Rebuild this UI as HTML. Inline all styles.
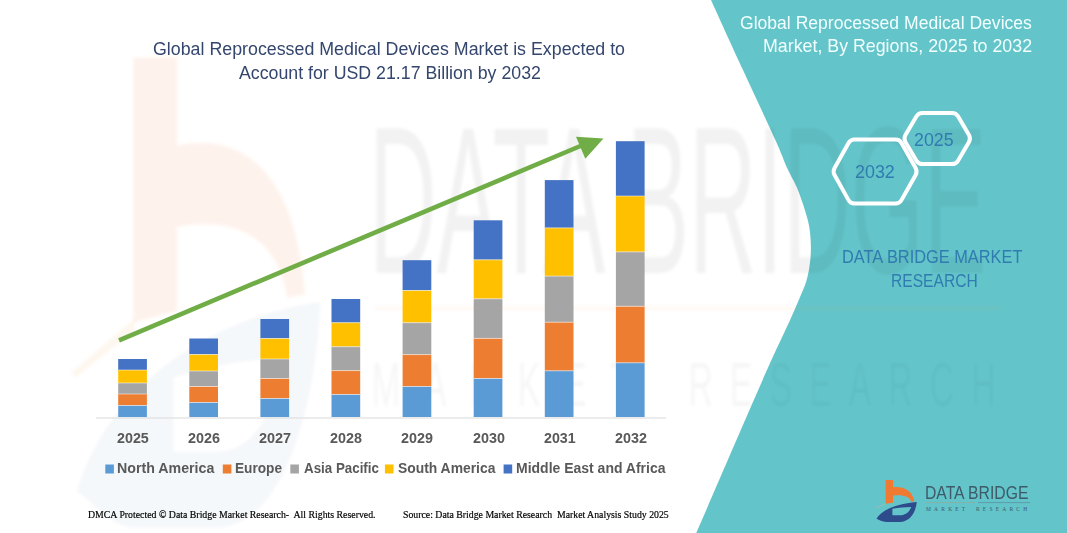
<!DOCTYPE html>
<html><head><meta charset="utf-8">
<style>
html,body{margin:0;padding:0;}
body{width:1067px;height:533px;overflow:hidden;background:#fff;position:relative;font-family:"Liberation Sans",sans-serif;}
.t{position:absolute;white-space:nowrap;transform-origin:0 0;line-height:1;}
svg{position:absolute;left:0;top:0;}
</style></head><body>
<svg width="1067" height="533" viewBox="0 0 1067 533">
  <path d="M711,0 C716.3,11.7 732.3,46.7 743,70 C753.7,93.3 768.0,123.5 775.4,140 C782.8,156.5 783.9,160.9 787.5,168.8 C791.1,176.7 794.2,181.2 796.9,187.5 C799.6,193.8 801.7,200.1 803.7,206.3 C805.7,212.6 807.7,218.8 808.9,225 C810.1,231.2 810.6,237.5 810.8,243.8 C811.0,250.1 810.8,256.4 810,262.6 C809.2,268.9 808.2,275.1 806.3,281.3 C804.4,287.5 801.4,293.7 798.8,300 C796.2,306.3 793.3,312.6 790.5,318.9 C787.7,325.2 787.0,326.4 781.9,337.6 C776.8,348.8 774.3,353.4 760,386 C745.7,418.6 706.9,508.5 696.3,533 L1067,533 L1067,0 Z" fill="#63C5CA"/>
  <defs><filter id="bl" x="0" y="0" width="1067" height="533" filterUnits="userSpaceOnUse"><feGaussianBlur stdDeviation="1.6"/></filter></defs>
<g filter="url(#bl)"><g transform="matrix(6.02,0,0,11.3,-5199,-5371)">
  <path d="M885.72,480.4 L893.08,480.4 L893.08,488.2 C902.84,487.0 912.79,489.93 914.28,501.37 L911.29,501.67 C909.80,496.39 902.84,494.40 893.08,495.40 L893.08,502.86 L885.72,503.86 Z" fill="#F07A32" fill-opacity="0.09"/>
  <path d="M876.47,518.78 C880.95,510.82 894.88,503.86 916.77,502.06 C915.77,512.81 909.80,521.77 899.85,521.97 L886.42,521.97 C881.94,521.97 879.45,519.78 876.47,518.78 Z M892.39,508.7 C898.86,507.6 904.83,507.1 911.2,506.9 C909.6,511.6 905.82,515.30 899.85,515.30 L892.39,515.30 Z" fill="#2E4B8C" fill-opacity="0.045" fill-rule="evenodd"/>
  <polygon points="875.5,508.2 886,503.5 886,504.6 876,508.8" fill="#F07A32" fill-opacity="0.06"/>
  <line x1="926" y1="502.6" x2="1030" y2="502.6" stroke="#F07A32" stroke-opacity="0.06" stroke-width="0.3"/>
  <text x="924.9" y="499.5" textLength="102.6" lengthAdjust="spacingAndGlyphs" font-family="'Liberation Sans',sans-serif" font-size="18.6" fill="#000" fill-opacity="0.05">DATA BRIDGE</text>
  <text x="925.4" y="511.2" textLength="43" lengthAdjust="spacing" font-family="'Liberation Sans',sans-serif" font-size="5.6" fill="#000" fill-opacity="0.035">MARKET</text>
  <text x="978" y="511.2" textLength="51" lengthAdjust="spacing" font-family="'Liberation Sans',sans-serif" font-size="5.6" fill="#000" fill-opacity="0.035">RESEARCH</text>
</g></g>

  <line x1="96" y1="418" x2="666" y2="418" stroke="#D9D9D9" stroke-width="1"/>
  <rect x="118.2" y="359" width="28.7" height="11.0" fill="#4472C4"/>
<rect x="118.2" y="370" width="28.7" height="13.0" fill="#FFC000"/>
<rect x="118.2" y="383" width="28.7" height="11.0" fill="#A5A5A5"/>
<rect x="118.2" y="394" width="28.7" height="11.5" fill="#ED7D31"/>
<rect x="118.2" y="405.5" width="28.7" height="11.5" fill="#5B9BD5"/>
<rect x="118.2" y="369.5" width="28.7" height="1" fill="#fff" fill-opacity="0.5"/>
<rect x="118.2" y="382.5" width="28.7" height="1" fill="#fff" fill-opacity="0.5"/>
<rect x="118.2" y="393.5" width="28.7" height="1" fill="#fff" fill-opacity="0.5"/>
<rect x="118.2" y="405.0" width="28.7" height="1" fill="#fff" fill-opacity="0.5"/>
<rect x="189.3" y="338.5" width="28.7" height="16.0" fill="#4472C4"/>
<rect x="189.3" y="354.5" width="28.7" height="16.5" fill="#FFC000"/>
<rect x="189.3" y="371" width="28.7" height="15.5" fill="#A5A5A5"/>
<rect x="189.3" y="386.5" width="28.7" height="16.0" fill="#ED7D31"/>
<rect x="189.3" y="402.5" width="28.7" height="14.5" fill="#5B9BD5"/>
<rect x="189.3" y="354.0" width="28.7" height="1" fill="#fff" fill-opacity="0.5"/>
<rect x="189.3" y="370.5" width="28.7" height="1" fill="#fff" fill-opacity="0.5"/>
<rect x="189.3" y="386.0" width="28.7" height="1" fill="#fff" fill-opacity="0.5"/>
<rect x="189.3" y="402.0" width="28.7" height="1" fill="#fff" fill-opacity="0.5"/>
<rect x="260.4" y="319" width="28.7" height="19.5" fill="#4472C4"/>
<rect x="260.4" y="338.5" width="28.7" height="20.5" fill="#FFC000"/>
<rect x="260.4" y="359" width="28.7" height="19.5" fill="#A5A5A5"/>
<rect x="260.4" y="378.5" width="28.7" height="20.0" fill="#ED7D31"/>
<rect x="260.4" y="398.5" width="28.7" height="18.5" fill="#5B9BD5"/>
<rect x="260.4" y="338.0" width="28.7" height="1" fill="#fff" fill-opacity="0.5"/>
<rect x="260.4" y="358.5" width="28.7" height="1" fill="#fff" fill-opacity="0.5"/>
<rect x="260.4" y="378.0" width="28.7" height="1" fill="#fff" fill-opacity="0.5"/>
<rect x="260.4" y="398.0" width="28.7" height="1" fill="#fff" fill-opacity="0.5"/>
<rect x="331.5" y="299" width="28.7" height="23.7" fill="#4472C4"/>
<rect x="331.5" y="322.7" width="28.7" height="24.0" fill="#FFC000"/>
<rect x="331.5" y="346.7" width="28.7" height="23.9" fill="#A5A5A5"/>
<rect x="331.5" y="370.6" width="28.7" height="23.9" fill="#ED7D31"/>
<rect x="331.5" y="394.5" width="28.7" height="22.5" fill="#5B9BD5"/>
<rect x="331.5" y="322.2" width="28.7" height="1" fill="#fff" fill-opacity="0.5"/>
<rect x="331.5" y="346.2" width="28.7" height="1" fill="#fff" fill-opacity="0.5"/>
<rect x="331.5" y="370.1" width="28.7" height="1" fill="#fff" fill-opacity="0.5"/>
<rect x="331.5" y="394.0" width="28.7" height="1" fill="#fff" fill-opacity="0.5"/>
<rect x="402.6" y="260.2" width="28.7" height="30.3" fill="#4472C4"/>
<rect x="402.6" y="290.5" width="28.7" height="32.2" fill="#FFC000"/>
<rect x="402.6" y="322.7" width="28.7" height="31.9" fill="#A5A5A5"/>
<rect x="402.6" y="354.6" width="28.7" height="31.9" fill="#ED7D31"/>
<rect x="402.6" y="386.5" width="28.7" height="30.5" fill="#5B9BD5"/>
<rect x="402.6" y="290.0" width="28.7" height="1" fill="#fff" fill-opacity="0.5"/>
<rect x="402.6" y="322.2" width="28.7" height="1" fill="#fff" fill-opacity="0.5"/>
<rect x="402.6" y="354.1" width="28.7" height="1" fill="#fff" fill-opacity="0.5"/>
<rect x="402.6" y="386.0" width="28.7" height="1" fill="#fff" fill-opacity="0.5"/>
<rect x="473.7" y="220.3" width="28.7" height="39.5" fill="#4472C4"/>
<rect x="473.7" y="259.8" width="28.7" height="39.0" fill="#FFC000"/>
<rect x="473.7" y="298.8" width="28.7" height="39.6" fill="#A5A5A5"/>
<rect x="473.7" y="338.4" width="28.7" height="40.1" fill="#ED7D31"/>
<rect x="473.7" y="378.5" width="28.7" height="38.5" fill="#5B9BD5"/>
<rect x="473.7" y="259.3" width="28.7" height="1" fill="#fff" fill-opacity="0.5"/>
<rect x="473.7" y="298.3" width="28.7" height="1" fill="#fff" fill-opacity="0.5"/>
<rect x="473.7" y="337.9" width="28.7" height="1" fill="#fff" fill-opacity="0.5"/>
<rect x="473.7" y="378.0" width="28.7" height="1" fill="#fff" fill-opacity="0.5"/>
<rect x="544.8" y="180.1" width="28.7" height="47.8" fill="#4472C4"/>
<rect x="544.8" y="227.9" width="28.7" height="48.2" fill="#FFC000"/>
<rect x="544.8" y="276.1" width="28.7" height="46.1" fill="#A5A5A5"/>
<rect x="544.8" y="322.2" width="28.7" height="48.6" fill="#ED7D31"/>
<rect x="544.8" y="370.8" width="28.7" height="46.2" fill="#5B9BD5"/>
<rect x="544.8" y="227.4" width="28.7" height="1" fill="#fff" fill-opacity="0.5"/>
<rect x="544.8" y="275.6" width="28.7" height="1" fill="#fff" fill-opacity="0.5"/>
<rect x="544.8" y="321.7" width="28.7" height="1" fill="#fff" fill-opacity="0.5"/>
<rect x="544.8" y="370.3" width="28.7" height="1" fill="#fff" fill-opacity="0.5"/>
<rect x="615.9" y="141.2" width="28.7" height="54.8" fill="#4472C4"/>
<rect x="615.9" y="196" width="28.7" height="55.9" fill="#FFC000"/>
<rect x="615.9" y="251.9" width="28.7" height="54.4" fill="#A5A5A5"/>
<rect x="615.9" y="306.3" width="28.7" height="56.5" fill="#ED7D31"/>
<rect x="615.9" y="362.8" width="28.7" height="54.2" fill="#5B9BD5"/>
<rect x="615.9" y="195.5" width="28.7" height="1" fill="#fff" fill-opacity="0.5"/>
<rect x="615.9" y="251.4" width="28.7" height="1" fill="#fff" fill-opacity="0.5"/>
<rect x="615.9" y="305.8" width="28.7" height="1" fill="#fff" fill-opacity="0.5"/>
<rect x="615.9" y="362.3" width="28.7" height="1" fill="#fff" fill-opacity="0.5"/>
  <rect x="105.30000000000001" y="464.5" width="8.6" height="9" fill="#5B9BD5"/>
<rect x="222.8" y="464.5" width="8.6" height="9" fill="#ED7D31"/>
<rect x="290.29999999999995" y="464.5" width="8.6" height="9" fill="#A5A5A5"/>
<rect x="384.9" y="464.5" width="8.6" height="9" fill="#FFC000"/>
<rect x="503.59999999999997" y="464.5" width="8.6" height="9" fill="#4472C4"/>
  <line x1="119" y1="340.3" x2="584" y2="144.5" stroke="#70AD47" stroke-width="4.6"/>
  <polygon points="576,136.8 603.5,138.5 585.3,158.8" fill="#70AD47"/>
  <g fill="none" stroke="#fff" stroke-width="4" stroke-linejoin="round">
    <path d="M916.47,116.35 Q918.50,112.90 922.50,112.90 L952.00,112.90 Q956.00,112.90 958.02,116.35 L968.98,135.05 Q971.00,138.50 968.98,141.95 L958.02,160.65 Q956.00,164.10 952.00,164.10 L922.50,164.10 Q918.50,164.10 916.47,160.65 L905.43,141.95 Q903.40,138.50 905.43,135.05 Z"/>
    <path d="M848.54,143.09 Q850.50,139.60 854.50,139.60 L895.50,139.60 Q899.50,139.60 901.47,143.08 L915.63,168.02 Q917.60,171.50 915.64,174.98 L901.46,200.12 Q899.50,203.60 895.50,203.60 L854.50,203.60 Q850.50,203.60 848.55,200.11 L834.55,174.99 Q832.60,171.50 834.56,168.01 Z"/>
  </g>
  <g id="lg">
  <path d="M885.72,479.98 L893.08,479.98 L893.08,487.14 C902.84,485.95 912.79,489.93 914.28,501.37 L911.29,501.67 C909.80,496.39 902.84,494.40 893.08,495.40 L893.08,502.86 L885.72,503.86 Z" fill="#F07A32"/>
  <path d="M876.47,518.78 C880.95,510.82 894.88,503.86 916.77,502.06 C915.77,512.81 909.80,521.77 899.85,521.97 L886.42,521.97 C881.94,521.97 879.45,519.78 876.47,518.78 Z M892.39,508.7 C898.86,507.6 904.83,507.1 911.2,506.9 C909.6,511.6 905.82,515.30 899.85,515.30 L892.39,515.30 Z" fill="#2E4B8C" fill-rule="evenodd"/>
  <line x1="876" y1="507.8" x2="886" y2="503.9" stroke="#A8B8B0" stroke-width="0.8"/>
  <line x1="926" y1="502.6" x2="975" y2="502.6" stroke="#8FA9A0" stroke-width="0.8"/>
  <line x1="978" y1="502.6" x2="1030" y2="502.6" stroke="#5E8FA0" stroke-width="0.8"/>
  <text x="926" y="511" font-family="'Liberation Serif',serif" font-size="5.5" fill="#3E5A68" letter-spacing="3.2">MARKET</text>
  <text x="976" y="511" font-family="'Liberation Serif',serif" font-size="5.5" fill="#3E5A68" letter-spacing="3.2">RESEARCH</text>
</g>

</svg>
<div class="t" id="title1" style="left:153.39px;top:40.37px;font-size:18.75px;font-family:'Liberation Sans',sans-serif;font-weight:400;color:#34466E;transform:scaleX(0.9495);">Global Reprocessed Medical Devices Market is Expected to</div>
<div class="t" id="title2" style="left:238.89px;top:64.79px;font-size:17.73px;font-family:'Liberation Sans',sans-serif;font-weight:400;color:#34466E;transform:scaleX(1.0016);">Account for USD 21.17 Billion by 2032</div>
<div class="t" id="rt1" style="left:739.99px;top:14.53px;font-size:17.44px;font-family:'Liberation Sans',sans-serif;font-weight:400;color:#F2FFFF;transform:scaleX(1.0072);">Global Reprocessed Medical Devices</div>
<div class="t" id="rt2" style="left:763.04px;top:36.69px;font-size:18.31px;font-family:'Liberation Sans',sans-serif;font-weight:400;color:#F2FFFF;transform:scaleX(0.9725);">Market, By Regions, 2025 to 2032</div>
<div class="t" id="hx1" style="left:914.05px;top:130.95px;font-size:18.60px;font-family:'Liberation Sans',sans-serif;font-weight:400;color:#307BB0;transform:scaleX(0.9553);">2025</div>
<div class="t" id="hx2" style="left:855.05px;top:163.00px;font-size:18.90px;font-family:'Liberation Sans',sans-serif;font-weight:400;color:#307BB0;transform:scaleX(0.9474);">2032</div>
<div class="t" id="db1" style="left:841.55px;top:247.55px;font-size:18.60px;font-family:'Liberation Sans',sans-serif;font-weight:400;color:#307BB0;transform:scaleX(0.8806);">DATA BRIDGE MARKET</div>
<div class="t" id="db2" style="left:891.41px;top:271.64px;font-size:18.02px;font-family:'Liberation Sans',sans-serif;font-weight:400;color:#307BB0;transform:scaleX(0.8661);">RESEARCH</div>
<div class="t" id="leg1" style="left:117.49px;top:460.08px;font-size:15.55px;font-family:'Liberation Sans',sans-serif;font-weight:700;color:#595959;transform:scaleX(0.9135);">North America</div>
<div class="t" id="leg2" style="left:234.66px;top:460.08px;font-size:15.55px;font-family:'Liberation Sans',sans-serif;font-weight:700;color:#595959;transform:scaleX(0.8789);">Europe</div>
<div class="t" id="leg3" style="left:303.73px;top:460.08px;font-size:15.55px;font-family:'Liberation Sans',sans-serif;font-weight:700;color:#595959;transform:scaleX(0.8586);">Asia Pacific</div>
<div class="t" id="leg4" style="left:397.93px;top:460.08px;font-size:15.55px;font-family:'Liberation Sans',sans-serif;font-weight:700;color:#595959;transform:scaleX(0.8921);">South America</div>
<div class="t" id="leg5" style="left:515.54px;top:460.08px;font-size:15.55px;font-family:'Liberation Sans',sans-serif;font-weight:700;color:#595959;transform:scaleX(0.8998);">Middle East and Africa</div>
<div class="t" id="ft1" style="left:88.04px;top:509.47px;font-size:10.84px;font-family:'Liberation Serif',serif;font-weight:400;color:#000;transform:scaleX(0.9069);-webkit-text-stroke:0.2px #000;">DMCA Protected © Data Bridge Market Research-  All Rights Reserved.</div>
<div class="t" id="ft2" style="left:402.51px;top:509.47px;font-size:10.84px;font-family:'Liberation Serif',serif;font-weight:400;color:#000;transform:scaleX(0.9045);-webkit-text-stroke:0.2px #000;">Source: Data Bridge Market Research  Market Analysis Study 2025</div>
<div class="t" id="logo1" style="left:925.18px;top:484.35px;font-size:18.60px;font-family:'Liberation Sans',sans-serif;font-weight:400;color:#3E5A68;transform:scaleX(0.8455);">DATA BRIDGE</div>
<div class="t" id="ax0" style="left:116.60px;top:430.64px;font-size:14.24px;font-family:'Liberation Sans',sans-serif;font-weight:700;color:#595959;transform:scaleX(1.0046);">2025</div>
<div class="t" id="ax1" style="left:187.92px;top:430.64px;font-size:14.24px;font-family:'Liberation Sans',sans-serif;font-weight:700;color:#595959;transform:scaleX(1.0101);">2026</div>
<div class="t" id="ax2" style="left:259.40px;top:430.64px;font-size:14.24px;font-family:'Liberation Sans',sans-serif;font-weight:700;color:#595959;transform:scaleX(1.0146);">2027</div>
<div class="t" id="ax3" style="left:329.91px;top:430.64px;font-size:14.24px;font-family:'Liberation Sans',sans-serif;font-weight:700;color:#595959;transform:scaleX(1.0083);">2028</div>
<div class="t" id="ax4" style="left:401.04px;top:430.64px;font-size:14.24px;font-family:'Liberation Sans',sans-serif;font-weight:700;color:#595959;transform:scaleX(1.0074);">2029</div>
<div class="t" id="ax5" style="left:472.55px;top:430.64px;font-size:14.24px;font-family:'Liberation Sans',sans-serif;font-weight:700;color:#595959;transform:scaleX(1.0102);">2030</div>
<div class="t" id="ax6" style="left:543.60px;top:430.64px;font-size:14.24px;font-family:'Liberation Sans',sans-serif;font-weight:700;color:#595959;transform:scaleX(1.0002);">2031</div>
<div class="t" id="ax7" style="left:614.54px;top:430.64px;font-size:14.24px;font-family:'Liberation Sans',sans-serif;font-weight:700;color:#595959;transform:scaleX(1.0076);">2032</div>
</body></html>
